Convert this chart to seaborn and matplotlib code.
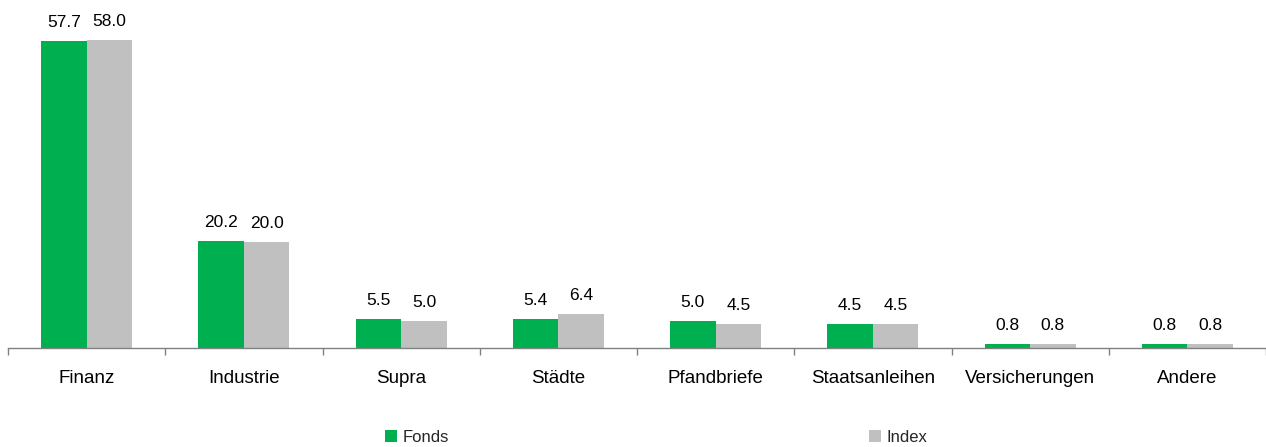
import matplotlib
matplotlib.use("Agg")
import matplotlib.pyplot as plt
import seaborn as sns
import pandas as pd
import numpy as np

# Daten aus dem Diagramm
kategorien = ["Finanz", "Industrie", "Supra", "Städte", "Pfandbriefe",
              "Staatsanleihen", "Versicherungen", "Andere"]
fonds = [57.7, 20.2, 5.5, 5.4, 5.0, 4.5, 0.8, 0.8]
index = [58.0, 20.0, 5.0, 6.4, 4.5, 4.5, 0.8, 0.8]
serien = ["Fonds", "Index"]
farben = {"Fonds": "#00B050", "Index": "#C0C0C0"}

df = pd.DataFrame({
    "Kategorie": kategorien * 2,
    "Wert": fonds + index,
    "Serie": ["Fonds"] * len(fonds) + ["Index"] * len(index),
})

sns.set_theme(style="white")
plt.rcParams["font.family"] = ["Liberation Sans", "DejaVu Sans"]

fig = plt.figure(figsize=(12.66, 4.47), dpi=100)
ax = fig.add_axes([8 / 1266, 1 - 348 / 447, 1 - 8 / 1266, 348 / 447])

sns.barplot(data=df, x="Kategorie", y="Wert", hue="Serie", order=kategorien,
            hue_order=serien, palette=farben, width=0.58, saturation=1,
            linewidth=0, ax=ax)

for cont in ax.containers:
    ax.bar_label(cont, fmt="%.1f", padding=8, fontsize=12.5, color="#000000")

ax.set_xlim(-0.5, len(kategorien) - 0.5)
ax.set_ylim(0, 65.5)
ax.set_xlabel("")
ax.set_ylabel("")
ax.set_yticks([])

# Teilstriche an den Kategoriegrenzen
ax.set_xticks(np.arange(-0.5, len(kategorien), 1.0), minor=True)
ax.tick_params(axis="x", which="major", length=0, pad=16, labelsize=13.5,
               labelcolor="#000000")
ax.tick_params(axis="x", which="minor", length=5, width=1, color="#808080",
               direction="out", bottom=True)

for s in ["left", "top", "right"]:
    ax.spines[s].set_visible(False)
ax.spines["bottom"].set_color("#808080")
ax.spines["bottom"].set_linewidth(1)

handles, labels = ax.get_legend_handles_labels()
ax.get_legend().remove()
fig.legend(handles, labels, loc="center", bbox_to_anchor=(0.518, 0.022),
           ncol=2, frameon=False, fontsize=12, handlelength=0.75,
           handleheight=0.75, handletextpad=0.3, columnspacing=25.2,
           borderpad=0, borderaxespad=0)

fig.savefig("out.png", dpi=100)
plt.close("all")
